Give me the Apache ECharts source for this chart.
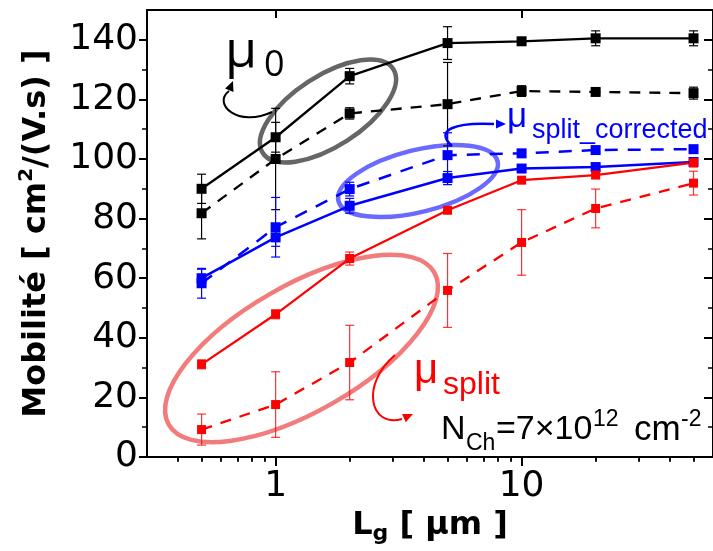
<!DOCTYPE html>
<html><head><meta charset="utf-8">
<script src="https://cdn.jsdelivr.net/npm/echarts@6/dist/echarts.min.js"></script>
<style>html,body{margin:0;padding:0;background:#fff;}#c{width:713px;height:551px;}</style>
</head><body><div id="c"></div>
<script>
// ---- data ----
const gateLengths = [0.5, 1, 2, 5, 10, 20, 50];
const mu0Solid      = [90, 107.3, 127.8, 138.9, 139.5, 140.5, 140.5];
const mu0SolidErr   = [4.9, 5, 2.6, 5.5, 1, 2.5, 2.5];
const mu0Dashed     = [81.8, 100, 115.3, 118.4, 122.8, 122.5, 122.1];
const mu0DashedErr  = [8.6, 17, 1.9, 14, 1.8, 1, 2];
const corrSolid     = [60, 73.7, 84.3, 93.6, 96.8, 97.3, 99];
const corrSolidErr  = [3, 3, 2.5, 2.2, 1, 1, 1];
const corrDashed    = [58.3, 77.1, 89.9, 101.3, 101.9, 103, 103.3];
const corrDashedErr = [5, 10, 2.3, 7.5, 1, 1, 1];
const splitSolid    = [31.1, 47.9, 66.6, 82.8, 92.9, 94.6, 98.8];
const splitSolidErr = [1.5, 1.5, 2.2, 1, 1, 1, 1.5];
const splitDashed   = [9.2, 17.6, 31.7, 55.9, 72, 83.4, 91.9];
const splitDashedErr= [5.2, 11, 12.5, 12.4, 11, 6.5, 4];
const xMajorTicks = [1, 10];
const xMinorTicks = [0.4, 0.5, 0.6, 0.7, 0.8, 0.9, 2, 3, 4, 5, 6, 7, 8, 9, 20, 30, 40, 50];
const yMajorTicks = [0, 20, 40, 60, 80, 100, 120, 140];
const yMinorTicks = [10, 30, 50, 70, 90, 110, 130];

// ---- styling ----
const FONT = 'DejaVu Sans';
const AFONT = 'Liberation Sans';
const BLACK = '#000000', BLUE = '#0000ff', RED = '#ff0000';
const XMIN = 0.3, XMAX = 60, YMIN = 0, YMAX = 150;
const lineAx = {show: true, onZero: false, lineStyle: {color: '#000', width: 2}};

function xAxisDef(pos, ticks, len, inside, withLine) {
  return {type: 'log', min: XMIN, max: XMAX, position: pos,
    axisLine: withLine ? lineAx : {show: false},
    axisTick: {show: true, inside: inside, customValues: ticks, length: len, lineStyle: {color: '#000', width: len > 6 ? 2 : 1.5}},
    axisLabel: {show: false}, splitLine: {show: false}, minorTick: {show: false}};
}
function yAxisDef(pos, ticks, len, inside, withLine) {
  return {type: 'value', min: YMIN, max: YMAX, position: pos,
    axisLine: withLine ? lineAx : {show: false},
    axisTick: {show: true, inside: inside, customValues: ticks, length: len, lineStyle: {color: '#000', width: len > 6 ? 2 : 1.5}},
    axisLabel: {show: false}, splitLine: {show: false}};
}

const xMain = xAxisDef('bottom', xMajorTicks, 9, false, true);
xMain.axisLabel = {show: true, customValues: xMajorTicks, fontFamily: FONT, fontSize: 36, color: '#000', margin: 12};
xMain.name = '{b|L}{s|g}{b| [ μm ]}';
xMain.nameLocation = 'middle';
xMain.nameGap = 46;
xMain.nameTextStyle = {rich: {
  b: {fontFamily: FONT, fontWeight: 'bold', fontSize: 32, color: '#000', verticalAlign: 'middle'},
  s: {fontFamily: FONT, fontWeight: 'bold', fontSize: 22, color: '#000', verticalAlign: 'middle', padding: [16, 0, 0, 0]}
}};

const yMain = yAxisDef('left', yMajorTicks, 8, false, true);
yMain.axisLabel = {show: true, customValues: yMajorTicks, fontFamily: FONT, fontSize: 36, color: '#000', margin: 9};
yMain.name = '{b|Mobilité [ cm}{p|2}{b|/(V.s) ]}';
yMain.nameLocation = 'middle';
yMain.nameRotate = 90;
yMain.nameGap = 90;
yMain.nameTextStyle = {rich: {
  b: {fontFamily: FONT, fontWeight: 'bold', fontSize: 32, color: '#000', verticalAlign: 'middle'},
  p: {fontFamily: FONT, fontWeight: 'bold', fontSize: 20, color: '#000', verticalAlign: 'middle', padding: [0, 0, 20, 0]}
}};

function pts(vals) { return gateLengths.map((x, i) => [x, vals[i]]); }
function errPts(vals, errs) { return gateLengths.map((x, i) => [x, vals[i], errs[i]]); }

function lineSeries(name, vals, color, dashed, width, size) {
  return {type: 'line', name: name, data: pts(vals), xAxisIndex: 0, yAxisIndex: 0,
    symbol: 'rect', symbolSize: size, showSymbol: true,
    lineStyle: {color: color, width: width, type: dashed ? dashed : 'solid'},
    itemStyle: {color: color}, z: 4, animation: false};
}
function errSeries(vals, errs, color) {
  return {type: 'custom', data: errPts(vals, errs), xAxisIndex: 0, yAxisIndex: 0, z: 3, animation: false,
    encode: {x: 0, y: 1},
    renderItem: function (params, api) {
      const x = api.value(0), y = api.value(1), e = api.value(2);
      const t = api.coord([x, y + e]), b = api.coord([x, y - e]);
      const hw = 4.5;
      const st = {stroke: color, lineWidth: 1.2};
      return {type: 'group', children: [
        {type: 'line', shape: {x1: t[0], y1: t[1], x2: b[0], y2: b[1]}, style: st},
        {type: 'line', shape: {x1: t[0] - hw, y1: t[1], x2: t[0] + hw, y2: t[1]}, style: st},
        {type: 'line', shape: {x1: b[0] - hw, y1: b[1], x2: b[0] + hw, y2: b[1]}, style: st}
      ]};
    }};
}

// ---- annotations (pixel placement; y is the text's vertical middle) ----
function txt(str, x, ymid, size, color, family) {
  return {type: 'text', x: x, y: ymid, z: 20,
    style: {text: str, font: size + 'px "' + (family || AFONT) + '"', fill: color, align: 'left', verticalAlign: 'middle'}};
}
function ell(cx, cy, rx, ry, deg, color) {
  return {type: 'ellipse', x: cx, y: cy, rotation: deg * Math.PI / 180, z: 1,
    shape: {cx: 0, cy: 0, rx: rx, ry: ry}, style: {fill: 'none', stroke: color, lineWidth: 4.5}};
}
function arrow(p0, c1, c2, p1, tip, color, w) {
  const dx = tip[0] - p1[0], dy = tip[1] - p1[1];
  const L = Math.hypot(dx, dy), ux = dx / L, uy = dy / L;
  const bx = tip[0] - 10 * ux, by = tip[1] - 10 * uy, h = 4.5;
  return [
    {type: 'bezierCurve', z: 20, shape: {x1: p0[0], y1: p0[1], cpx1: c1[0], cpy1: c1[1], cpx2: c2[0], cpy2: c2[1], x2: p1[0], y2: p1[1]},
      style: {stroke: color, lineWidth: w, fill: 'none'}},
    {type: 'polygon', z: 20, shape: {points: [tip, [bx - uy * h, by + ux * h], [bx + uy * h, by - ux * h]]}, style: {fill: color}}
  ];
}

const graphics = [
  ell(328, 111, 77.6, 35.3, 32.8, '#666666'),
  ell(418, 181, 82, 31, 14, '#6a6aff'),
  ell(301.5, 348.5, 153, 63, 29.8, '#f27b7b'),
  ...arrow([272, 112], [238, 128], [212, 104], [229, 91], [233, 81], BLACK, 2),
  ...arrow([452, 146], [434, 130], [455, 122], [494, 124], [506, 124], BLUE, 2.5),
  ...arrow([395, 355], [360, 385], [370, 428], [402, 419], [413, 414], RED, 2),
  txt('μ', 225, 52, 52, BLACK, 'Open Sans'),
  txt('0', 264, 66, 36, BLACK, 'Open Sans'),
  txt('μ', 507, 117, 35, BLUE),
  txt('split_corrected', 532, 131, 27, BLUE),
  txt('μ', 414, 371, 42, RED),
  txt('split', 443, 385, 32, RED),
  txt('N', 441, 430, 34, BLACK),
  txt('Ch', 466, 444, 23, BLACK),
  txt('=7×10', 496, 430, 34, BLACK),
  txt('12', 593, 420, 23, BLACK),
  txt('cm', 634, 430, 35, BLACK),
  txt('-2', 681, 420, 23, BLACK)
];

const chart = echarts.init(document.getElementById('c'), null, {renderer: 'canvas'});
chart.setOption({
  animation: false,
  backgroundColor: '#fff',
  grid: {left: 147, right: -6, top: 10, bottom: 94, containLabel: false},
  xAxis: [xMain,
    xAxisDef('bottom', xMinorTicks, 5, false, false),
    xAxisDef('top', xMajorTicks, 8, true, true),
    xAxisDef('top', xMinorTicks, 4, true, false)],
  yAxis: [yMain,
    yAxisDef('left', yMinorTicks, 5, false, false),
    yAxisDef('right', yMajorTicks, 9, true, true),
    yAxisDef('right', yMinorTicks, 5, true, false)],
  series: [
    errSeries(mu0Solid, mu0SolidErr, BLACK),
    errSeries(mu0Dashed, mu0DashedErr, BLACK),
    errSeries(corrSolid, corrSolidErr, BLUE),
    errSeries(corrDashed, corrDashedErr, BLUE),
    errSeries(splitSolid, splitSolidErr, 'rgba(255,0,0,0.8)'),
    errSeries(splitDashed, splitDashedErr, 'rgba(255,0,0,0.8)'),
    lineSeries('mu0', mu0Solid, BLACK, null, 2.3, 10),
    lineSeries('mu0 dashed', mu0Dashed, BLACK, [11, 9], 2.3, 10),
    lineSeries('mu split corrected', corrSolid, BLUE, null, 2.5, 10),
    lineSeries('mu split corrected dashed', corrDashed, BLUE, [13, 10], 2.5, 10),
    lineSeries('mu split', splitSolid, RED, null, 2.2, 9),
    lineSeries('mu split dashed', splitDashed, RED, [11, 9], 2.3, 9)
  ],
  graphic: graphics
});
</script></body></html>
